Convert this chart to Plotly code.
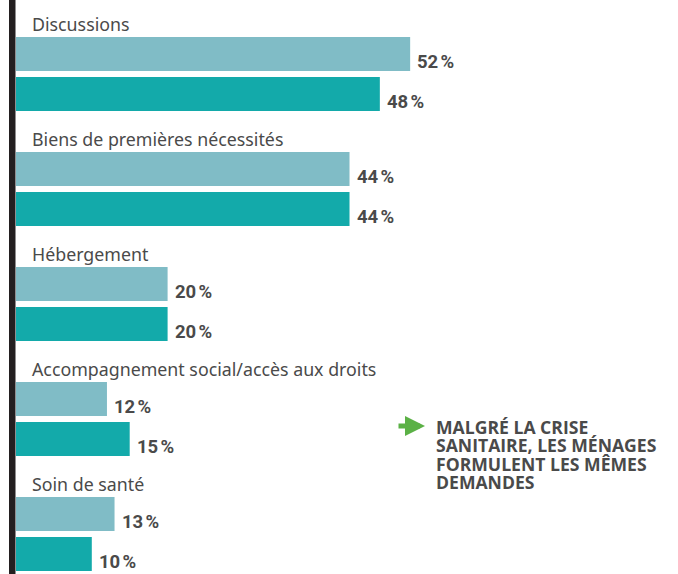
import plotly.graph_objects as go

# Données
categories = ["Discussions", "Biens de premières nécessités", "Hébergement",
              "Accompagnement social/accès aux droits", "Soin de santé"]
valeurs_a = [52, 44, 20, 12, 13]   # barres claires
valeurs_b = [48, 44, 20, 15, 10]   # barres turquoise
message = ["MALGRÉ LA CRISE", "SANITAIRE, LES MÉNAGES", "FORMULENT LES MÊMES", "DEMANDES"]

couleur_a = "#80bcc6"
couleur_b = "#13aaaa"
gris = "#4a4a4a"

W, H = 678, 574
px_par_pct = 7.58
x0 = -16 / px_par_pct
x1 = x0 + W / px_par_pct

pas = 115  # hauteur d'un groupe en px
y_a = [54 + pas * i for i in range(len(categories))]
y_b = [94 + pas * i for i in range(len(categories))]
y_lab = [24 + pas * i for i in range(len(categories))]

fig = go.Figure()
fig.add_trace(go.Bar(x=valeurs_a, y=y_a, orientation="h", width=34,
                     marker=dict(color=couleur_a, line=dict(width=0)), hoverinfo="skip"))
fig.add_trace(go.Bar(x=valeurs_b, y=y_b, orientation="h", width=34,
                     marker=dict(color=couleur_b, line=dict(width=0)), hoverinfo="skip"))

annotations = []
for i, cat in enumerate(categories):
    annotations.append(dict(x=0, y=y_lab[i], text=cat, showarrow=False, xanchor="left",
                            yanchor="middle", xshift=14,
                            font=dict(family="Noto Sans", size=17.8, color=gris)))
    for v, y in ((valeurs_a[i], y_a[i]), (valeurs_b[i], y_b[i])):
        annotations.append(dict(x=v, y=y, text=f"{v}\u202f%", showarrow=False,
                                xanchor="left", yanchor="middle", xshift=5, yshift=-8,
                                font=dict(family="Roboto", size=18.5, color=gris, weight="bold")))

# flèche verte + message
annotations.append(dict(x=(425 - 16) / px_par_pct, y=426, text="", showarrow=True,
                        ax=-28, ay=0, arrowhead=2, arrowsize=0.8, arrowwidth=5,
                        arrowcolor="#5bb146"))
for j, ligne in enumerate(message):
    annotations.append(dict(x=(434 - 16) / px_par_pct, y=427 + 18.3 * j, showarrow=False,
                            xanchor="left", yanchor="middle", text=ligne,
                            font=dict(family="Open Sans", size=17.6, color=gris, weight="bold")))

fig.update_layout(
    width=W, height=H,
    margin=dict(l=0, r=0, t=0, b=0),
    plot_bgcolor="white", paper_bgcolor="white",
    showlegend=False,
    barmode="overlay",
    xaxis=dict(range=[x0, x1], visible=False, fixedrange=True),
    yaxis=dict(range=[H, 0], visible=False, fixedrange=True),
    annotations=annotations,
    shapes=[dict(type="rect", xref="x", yref="paper", x0=-7 / px_par_pct, x1=-0.5 / px_par_pct,
                 y0=0, y1=1, fillcolor="#231f20", line=dict(width=0))],
)

fig.write_html("out.html", config={"displayModeBar": False},
               post_script="document.body.style.margin='0';document.body.style.overflow='hidden';")
